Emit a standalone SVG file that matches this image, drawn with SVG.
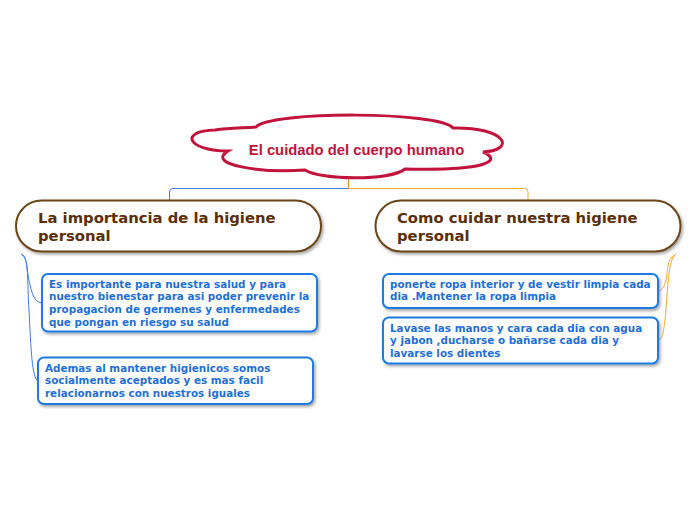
<svg xmlns="http://www.w3.org/2000/svg" width="696" height="520" viewBox="0 0 696 520">
<defs>
<filter id="sh" x="-10%" y="-20%" width="120%" height="150%">
<feDropShadow dx="1.5" dy="2" stdDeviation="1.5" flood-color="#000" flood-opacity="0.35"/>
</filter>
<style>
.main{fill:#fff;stroke:#6b4416;stroke-width:2}
.mt{font-family:"DejaVu Sans",Verdana,sans-serif;font-weight:bold;font-size:14.8px;fill:#5a2e06}
.sub{fill:#fff;stroke:#1f7be4;stroke-width:2}
.st{font-family:"DejaVu Sans",Verdana,sans-serif;font-weight:bold;font-size:10.4px;fill:#1f6fd6}
.ct{font-family:"Liberation Sans",Arial,sans-serif;font-weight:bold;font-size:14.8px;fill:#c0143c}
.cb{stroke:#3f7be8;stroke-width:1;fill:none}
.co{stroke:#f5aa2e;stroke-width:1;fill:none}
</style>
</defs>
<rect width="696" height="520" fill="#fff"/>
<g id="connectors">
<path d="M348.5,177 V188.5" stroke="#d08a2a" stroke-width="1" fill="none"/>
<path class="cb" d="M348.5,188.5 H173 Q169.5,188.5 169.5,192 V200"/>
<path class="co" d="M348.5,188.5 H524.5 Q528,188.5 528,192 V200"/>
<path class="cb" d="M21,254 C28,256 26,270 30,285 C33,298 36,302 42,303"/>
<path class="cb" d="M22,255 C29,258 27,280 29,310 C31,350 32,378 38,381"/>
<path class="co" d="M675,255 C667,258 668,270 666,280 C664,288 662,290 658,291"/>
<path class="co" d="M676,254 C668,258 668,290 665,320 C663,336 662,339 658,340"/>
</g>
<g id="root">
<path d="M256,127 C270,111 440,111 453,128 C506,127 517,150 483,152 C502,160 490,171 405,169 C390,181 320,180 305,170 C262,173 205,165 228,151 C188,151 178,131 215,130 C230,128 245,128 256,127 Z" fill="#fff" stroke="#c0143c" stroke-width="3"/>
<text class="ct" x="356.5" y="154.5" text-anchor="middle">El cuidado del cuerpo humano</text>
</g>
<g id="n1">
<rect class="main" x="16" y="200.5" width="305" height="51" rx="25.5" filter="url(#sh)"/>
<text class="mt" x="38" y="222.5">La importancia de la higiene</text>
<text class="mt" x="38" y="241">personal</text>
</g>
<g id="n2">
<rect class="main" x="375.5" y="200.5" width="305" height="51" rx="25.5" filter="url(#sh)"/>
<text class="mt" x="397" y="222.5">Como cuidar nuestra higiene</text>
<text class="mt" x="397" y="241">personal</text>
</g>
<g id="n1a">
<rect class="sub" x="42" y="274" width="275" height="57.5" rx="6" filter="url(#sh)"/>
<text class="st" x="49" y="287.5">Es importante para nuestra salud y para</text>
<text class="st" x="49" y="300.2">nuestro bienestar para asi poder prevenir la</text>
<text class="st" x="49" y="312.9">propagacion de germenes y enfermedades</text>
<text class="st" x="49" y="325.6">que pongan en riesgo su salud</text>
</g>
<g id="n1b">
<rect class="sub" x="38" y="357.5" width="275" height="46.5" rx="6" filter="url(#sh)"/>
<text class="st" x="45" y="371.5">Ademas al mantener higienicos somos</text>
<text class="st" x="45" y="384.2">socialmente aceptados y es mas facil</text>
<text class="st" x="45" y="396.9">relacionarnos con nuestros iguales</text>
</g>
<g id="n2a">
<rect class="sub" x="383" y="274" width="275" height="34" rx="6" filter="url(#sh)"/>
<text class="st" x="390" y="287.5">ponerte ropa interior y de vestir limpia cada</text>
<text class="st" x="390" y="300.2">dia .Mantener la ropa limpia</text>
</g>
<g id="n2b">
<rect class="sub" x="383" y="317.5" width="275" height="46" rx="6" filter="url(#sh)"/>
<text class="st" x="390" y="331.5">Lavase las manos y cara cada dia con agua</text>
<text class="st" x="390" y="344.2">y jabon ,ducharse o bañarse cada dia y</text>
<text class="st" x="390" y="356.9">lavarse los dientes</text>
</g>
</svg>
